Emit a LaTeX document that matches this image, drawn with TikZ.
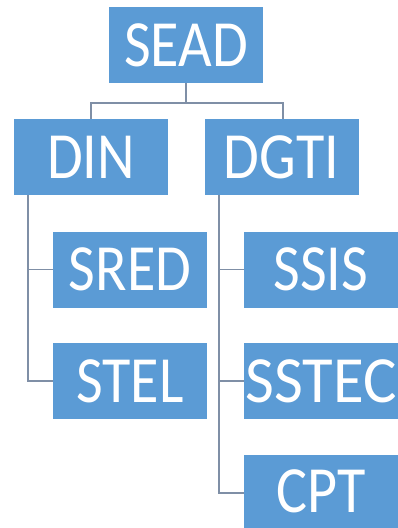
\documentclass[tikz,border=0pt]{standalone}
\usepackage{fontspec}
\setmainfont{Carlito}[FakeStretch=0.88]
\definecolor{boxblue}{HTML}{5B9BD5}
\definecolor{linegray}{HTML}{7F8FA6}
\begin{document}
\begin{tikzpicture}[x=1pt,y=-1pt,
  orgbox/.style={fill=boxblue,draw=none,text=white,minimum width=154pt,minimum height=76pt,
    inner sep=0pt,font=\fontsize{66}{66}\selectfont},
  conn/.style={draw=linegray,line width=1.5pt}]
\clip (0,0) rectangle (398,528);
\useasboundingbox (0,0) rectangle (398,528);
\fill[white] (0,0) rectangle (398,528);
\node[orgbox] (SEAD) at (186,45) {SEAD};
\node[orgbox] (DIN) at (91,157) {DIN};
\node[orgbox] (DGTI) at (281.5,157) {DGTI};
\node[orgbox] (SRED) at (130,269.5) {SRED};
\node[orgbox] (STEL) at (130,381) {STEL};
\node[orgbox] (SSIS) at (321,269.5) {SSIS};
\node[orgbox] (SSTEC) at (321,381) {\scalebox{1.08}[1]{SSTEC}};
\node[orgbox] (CPT) at (321,493) {\raisebox{3pt}{CPT}};
\coordinate (bus) at (186,103);
\draw[conn] (SEAD.south) -- (bus) -| (DIN.north);
\draw[conn] (bus) -| ([xshift=1.5pt]DGTI.north);
\draw[conn] ([xshift=-63pt]DIN.south) |- (SRED.west);
\draw[conn] ([xshift=-63pt]DIN.south) |- (STEL.west);
\draw[conn] ([xshift=-62.5pt]DGTI.south) |- (SSIS.west);
\draw[conn] ([xshift=-62.5pt]DGTI.south) |- (SSTEC.west);
\draw[conn] ([xshift=-62.5pt]DGTI.south) |- (CPT.west);
\end{tikzpicture}
\end{document}
